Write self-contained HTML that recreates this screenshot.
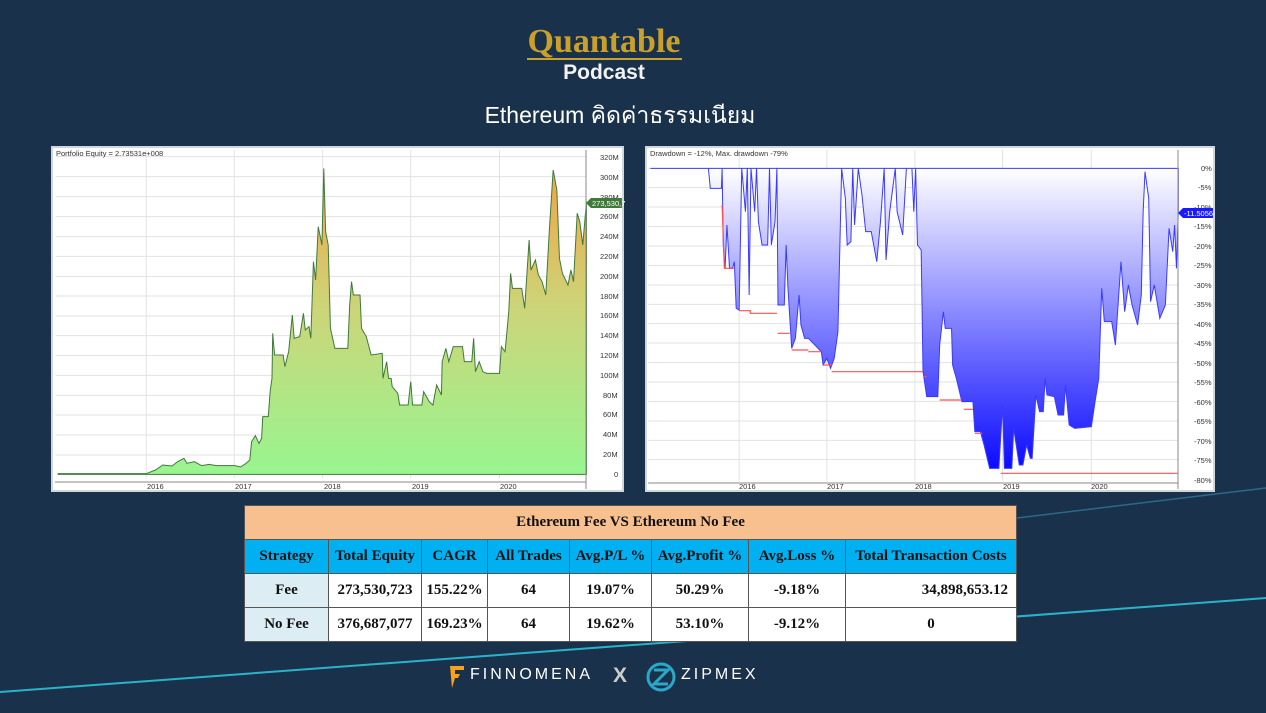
<!DOCTYPE html>
<html><head><meta charset="utf-8"><style>
*{margin:0;padding:0;box-sizing:border-box}
body{width:1266px;height:713px;overflow:hidden;background:#1a314b;position:relative;font-family:"Liberation Sans",sans-serif}
.bg{position:absolute;left:0;top:0}
.t1{position:absolute;left:0;width:1208px;text-align:center;top:23px;font-family:"Liberation Serif",serif;font-weight:bold;font-size:34px;color:#c9a12a}
.ul{position:absolute;left:527px;top:58px;width:155px;height:2px;background:#c9a12a}
.t2{position:absolute;left:0;width:1208px;text-align:center;top:61px;font-weight:bold;font-size:21px;color:#f2f2f2}
.t3{position:absolute;left:0;width:1240px;text-align:center;top:98px;font-size:23px;color:#ffffff}
table{position:absolute;left:244px;top:505px;border-collapse:collapse;font-family:"Liberation Serif",serif;font-weight:bold;font-size:15px;color:#111}
td{border:1px solid #555;text-align:center;padding:0}
.h0 td{background:#f8bf8f;height:34px}
.h1 td{background:#00b0f0;height:34px}
.r td{background:#fff;height:34px}
.r td.f{background:#dcedf3}
.foot{position:absolute;top:666px;color:#fff;font-size:16px;letter-spacing:3px}
</style></head><body>
<svg class="bg" width="1266" height="713">
<defs>
<linearGradient id="gEq" gradientUnits="userSpaceOnUse" x1="0" y1="70" x2="0" y2="988"><stop offset="0" stop-color="#f3a246"/><stop offset="0.45" stop-color="#cdd478"/><stop offset="1" stop-color="#98f590"/></linearGradient>
<linearGradient id="gDd" gradientUnits="userSpaceOnUse" x1="0" y1="70" x2="0" y2="975"><stop offset="0" stop-color="#ffffff"/><stop offset="1" stop-color="#0a0aff"/></linearGradient>
</defs>
<line x1="0" y1="692" x2="1266" y2="598" stroke="#2ab3c8" stroke-width="2"/>
<line x1="1000" y1="520" x2="1266" y2="488" stroke="#2a6a88" stroke-width="1.5"/>
<!-- left chart -->
<rect x="52" y="147" width="571" height="344" fill="#fff" stroke="#cfd6dc" stroke-width="2"/>
<g transform="translate(50,145) scale(0.36997,0.33333)">
<g stroke="#e2e2e2" stroke-width="1" vector-effect="non-scaling-stroke">
<line x1="15" x2="1450" y1="35" y2="35" vector-effect="non-scaling-stroke"/><line x1="15" x2="1450" y1="95" y2="95" vector-effect="non-scaling-stroke"/><line x1="15" x2="1450" y1="155" y2="155" vector-effect="non-scaling-stroke"/><line x1="15" x2="1450" y1="215" y2="215" vector-effect="non-scaling-stroke"/><line x1="15" x2="1450" y1="275" y2="275" vector-effect="non-scaling-stroke"/><line x1="15" x2="1450" y1="334" y2="334" vector-effect="non-scaling-stroke"/><line x1="15" x2="1450" y1="394" y2="394" vector-effect="non-scaling-stroke"/><line x1="15" x2="1450" y1="453" y2="453" vector-effect="non-scaling-stroke"/><line x1="15" x2="1450" y1="513" y2="513" vector-effect="non-scaling-stroke"/><line x1="15" x2="1450" y1="572" y2="572" vector-effect="non-scaling-stroke"/><line x1="15" x2="1450" y1="632" y2="632" vector-effect="non-scaling-stroke"/><line x1="15" x2="1450" y1="691" y2="691" vector-effect="non-scaling-stroke"/><line x1="15" x2="1450" y1="751" y2="751" vector-effect="non-scaling-stroke"/><line x1="15" x2="1450" y1="810" y2="810" vector-effect="non-scaling-stroke"/><line x1="15" x2="1450" y1="870" y2="870" vector-effect="non-scaling-stroke"/><line x1="15" x2="1450" y1="930" y2="930" vector-effect="non-scaling-stroke"/>
<line y1="15" y2="1000" x1="260" x2="260" vector-effect="non-scaling-stroke"/><line y1="15" y2="1000" x1="498" x2="498" vector-effect="non-scaling-stroke"/><line y1="15" y2="1000" x1="737" x2="737" vector-effect="non-scaling-stroke"/><line y1="15" y2="1000" x1="975" x2="975" vector-effect="non-scaling-stroke"/><line y1="15" y2="1000" x1="1215" x2="1215" vector-effect="non-scaling-stroke"/>
</g>
<path fill="url(#gEq)" stroke="#3f7a3a" stroke-width="1" vector-effect="non-scaling-stroke" d="M22,986 L260,986 285,975 305,960 330,963 345,950 362,940 370,955 390,950 410,962 430,958 450,962 500,962 515,966 530,955 540,945 545,890 555,872 565,895 572,880 575,815 590,815 595,740 600,700 602,565 607,630 630,630 635,665 645,620 655,510 660,580 675,575 685,505 690,555 700,545 705,580 712,350 718,405 725,245 735,300 740,70 745,260 752,300 758,550 770,610 805,610 810,480 815,410 820,450 838,450 842,550 855,575 868,630 898,625 900,700 910,650 915,700 922,700 925,725 940,745 945,780 968,780 975,710 980,780 1005,780 1010,740 1025,770 1035,780 1045,720 1058,750 1060,650 1070,610 1078,650 1090,605 1115,605 1120,650 1140,650 1145,580 1150,680 1160,650 1170,680 1180,685 1215,685 1220,605 1230,620 1240,500 1245,385 1250,430 1275,430 1283,490 1295,285 1300,375 1312,345 1320,390 1330,410 1340,450 1350,250 1360,75 1370,135 1377,340 1385,385 1400,420 1408,375 1415,410 1425,205 1432,230 1440,300 1450,170 L1450,988 L22,988 Z"/>
</g>
<line x1="55" y1="482" x2="586" y2="482" stroke="#888" stroke-width="1"/>
<line x1="586" y1="150" x2="586" y2="489" stroke="#888" stroke-width="1"/>
<g font-size="7.5" fill="#333" font-family="Liberation Sans,sans-serif">
<text x="56" y="156">Portfolio Equity = 2.73531e+008</text>
<text x="600" y="160">320M</text><text x="600" y="180">300M</text><text x="600" y="200">280M</text><text x="600" y="219">260M</text><text x="600" y="239">240M</text><text x="600" y="259">220M</text><text x="600" y="279">200M</text><text x="600" y="299">180M</text><text x="600" y="318">160M</text><text x="600" y="338">140M</text><text x="600" y="358">120M</text><text x="600" y="378">100M</text><text x="603" y="398">80M</text><text x="603" y="417">60M</text><text x="603" y="437">40M</text><text x="603" y="457">20M</text><text x="614" y="477">0</text>
<text x="147" y="489">2016</text><text x="235" y="489">2017</text><text x="324" y="489">2018</text><text x="412" y="489">2019</text><text x="500" y="489">2020</text>
</g>
<path d="M586,203 L591,198 L622,198 L622,208 L591,208 Z" fill="#3f7a3a"/>
<text x="592" y="206" font-size="7.5" fill="#fff" font-family="Liberation Sans,sans-serif">273,530,7</text>
<!-- right chart -->
<rect x="646" y="147" width="568" height="344" fill="#fff" stroke="#cfd6dc" stroke-width="2"/>
<g transform="translate(640,145) scale(0.36997,0.33333)">
<g stroke="#e2e2e2" stroke-width="1">
<line x1="22" x2="1455" y1="70" y2="70" vector-effect="non-scaling-stroke"/><line x1="22" x2="1455" y1="128" y2="128" vector-effect="non-scaling-stroke"/><line x1="22" x2="1455" y1="186" y2="186" vector-effect="non-scaling-stroke"/><line x1="22" x2="1455" y1="245" y2="245" vector-effect="non-scaling-stroke"/><line x1="22" x2="1455" y1="303" y2="303" vector-effect="non-scaling-stroke"/><line x1="22" x2="1455" y1="361" y2="361" vector-effect="non-scaling-stroke"/><line x1="22" x2="1455" y1="420" y2="420" vector-effect="non-scaling-stroke"/><line x1="22" x2="1455" y1="478" y2="478" vector-effect="non-scaling-stroke"/><line x1="22" x2="1455" y1="536" y2="536" vector-effect="non-scaling-stroke"/><line x1="22" x2="1455" y1="594" y2="594" vector-effect="non-scaling-stroke"/><line x1="22" x2="1455" y1="653" y2="653" vector-effect="non-scaling-stroke"/><line x1="22" x2="1455" y1="711" y2="711" vector-effect="non-scaling-stroke"/><line x1="22" x2="1455" y1="769" y2="769" vector-effect="non-scaling-stroke"/><line x1="22" x2="1455" y1="828" y2="828" vector-effect="non-scaling-stroke"/><line x1="22" x2="1455" y1="886" y2="886" vector-effect="non-scaling-stroke"/><line x1="22" x2="1455" y1="944" y2="944" vector-effect="non-scaling-stroke"/>
<line y1="15" y2="1005" x1="268" x2="268" vector-effect="non-scaling-stroke"/><line y1="15" y2="1005" x1="505" x2="505" vector-effect="non-scaling-stroke"/><line y1="15" y2="1005" x1="743" x2="743" vector-effect="non-scaling-stroke"/><line y1="15" y2="1005" x1="980" x2="980" vector-effect="non-scaling-stroke"/><line y1="15" y2="1005" x1="1220" x2="1220" vector-effect="non-scaling-stroke"/>
</g>
<path fill="url(#gDd)" stroke="#3a3aff" stroke-width="1" vector-effect="non-scaling-stroke" d="M28,70 L185,70 190,130 220,130 222,70 225,300 230,370 235,240 242,370 250,370 255,350 260,490 268,495 275,70 285,200 290,70 295,450 300,70 310,200 315,70 320,230 330,300 345,300 350,70 355,300 365,230 370,70 373,480 390,480 395,300 400,430 410,610 420,580 430,450 435,540 445,580 455,580 490,620 495,660 505,640 515,670 525,640 535,560 545,70 555,160 560,300 570,290 575,70 580,240 590,70 600,150 610,260 625,260 640,350 650,230 660,70 665,345 675,200 690,70 695,200 710,270 720,70 735,70 740,200 745,70 750,300 760,315 765,680 775,755 805,755 810,600 820,500 825,550 842,550 845,660 855,700 870,770 900,770 905,860 920,860 930,900 945,970 970,970 980,780 985,970 1005,970 1010,850 1025,960 1035,960 1045,900 1055,940 1060,940 1070,750 1080,800 1090,800 1095,700 1100,750 1120,755 1130,810 1145,810 1150,720 1160,840 1175,850 1220,845 1230,770 1240,700 1248,430 1255,530 1275,530 1285,600 1300,350 1310,500 1320,420 1330,480 1345,540 1355,450 1360,200 1365,80 1375,160 1380,470 1390,420 1405,520 1420,480 1430,250 1440,320 1445,240 1450,370 1455,200 L1455,70 Z"/>
<path fill="none" stroke="#ff5050" stroke-width="1.2" vector-effect="non-scaling-stroke" d="M222,180 L228,370 255,370 M268,497 L298,497 298,505 370,505 M372,565 L405,565 M410,615 L455,615 M455,620 L490,620 M495,660 L520,660 M518,680 L765,680 M765,695 L775,695 M810,765 L870,765 M875,793 L900,793 M905,865 L925,865 M975,985 L1455,985"/>
</g>
<line x1="648" y1="483" x2="1178" y2="483" stroke="#888" stroke-width="1"/>
<line x1="1178" y1="150" x2="1178" y2="489" stroke="#888" stroke-width="1"/>
<g font-size="7.5" fill="#333" font-family="Liberation Sans,sans-serif">
<text x="650" y="156">Drawdown = -12%, Max. drawdown -79%</text>
<text x="1201" y="171">0%</text><text x="1198" y="190">-5%</text><text x="1194" y="210">-10%</text><text x="1194" y="229">-15%</text><text x="1194" y="249">-20%</text><text x="1194" y="268">-25%</text><text x="1194" y="288">-30%</text><text x="1194" y="307">-35%</text><text x="1194" y="327">-40%</text><text x="1194" y="346">-45%</text><text x="1194" y="366">-50%</text><text x="1194" y="385">-55%</text><text x="1194" y="405">-60%</text><text x="1194" y="424">-65%</text><text x="1194" y="444">-70%</text><text x="1194" y="463">-75%</text><text x="1194" y="483">-80%</text>
<text x="739" y="489">2016</text><text x="827" y="489">2017</text><text x="915" y="489">2018</text><text x="1003" y="489">2019</text><text x="1091" y="489">2020</text>
</g>
<path d="M1178,213 L1183,208 L1213,208 L1213,218 L1183,218 Z" fill="#1a1aff"/>
<text x="1184" y="216" font-size="7.5" fill="#fff" font-family="Liberation Sans,sans-serif">-11.5056</text>
<!-- footer logos -->
<path d="M450,666 L464,666 L464,670 L455,670 L455,674 L460,674 L458,678 L455,678 L452,688 Z" fill="#f7a21b"/>
<circle cx="661" cy="677" r="13" fill="none" stroke="#2aa8c8" stroke-width="3"/>
<path d="M654,670 L668,670 L654,684 L668,684" fill="none" stroke="#2aa8c8" stroke-width="3"/>
</svg>
<div class="t1">Quantable</div>
<div class="ul"></div>
<div class="t2">Podcast</div>
<div class="t3">Ethereum คิดค่าธรรมเนียม</div>
<table>
<tr class="h0"><td colspan="8" style="width:772px">Ethereum Fee VS Ethereum No Fee</td></tr>
<tr class="h1"><td style="width:84px">Strategy</td><td style="width:93px">Total Equity</td><td style="width:66px">CAGR</td><td style="width:82px">All Trades</td><td style="width:82px">Avg.P/L %</td><td style="width:97px">Avg.Profit %</td><td style="width:97px">Avg.Loss %</td><td style="width:171px">Total Transaction Costs</td></tr>
<tr class="r"><td class="f">Fee</td><td>273,530,723</td><td>155.22%</td><td>64</td><td>19.07%</td><td>50.29%</td><td>-9.18%</td><td style="text-align:right;padding-right:8px">34,898,653.12</td></tr>
<tr class="r"><td class="f">No Fee</td><td>376,687,077</td><td>169.23%</td><td>64</td><td>19.62%</td><td>53.10%</td><td>-9.12%</td><td>0</td></tr>
</table>
<div class="foot" style="left:470px">FINNOMENA</div>
<div class="foot" style="left:613px;font-weight:bold;color:#ccc;font-size:21px;top:664px">X</div>
<div class="foot" style="left:681px">ZIPMEX</div>
</body></html>
